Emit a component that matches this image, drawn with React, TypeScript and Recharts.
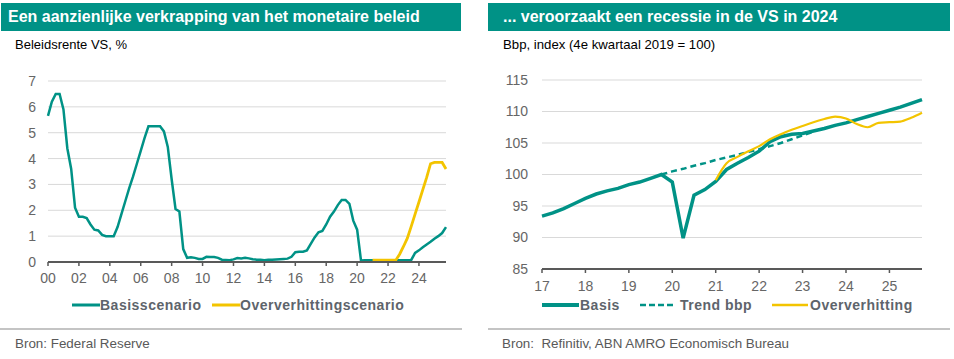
import React from "react";
import { LineChart, Line, XAxis, YAxis, CartesianGrid } from "recharts";

const TEAL = "#009286";
const YELLOW = "#f3c400";
const AXIS = "#595959";
const FONT = "'Liberation Sans', Arial, sans-serif";

// Beleidsrente VS, kwartaalwaarden vanaf 2000 K1
const rateStart = 2000;
const basisRate = [
  5.65, 6.2, 6.5, 6.5, // 2000
  5.9, 4.4, 3.6, 2.1, // 2001
  1.75, 1.75, 1.7, 1.45, // 2002
  1.25, 1.22, 1.05, 1.0, // 2003
  1.0, 1.0, 1.35, 1.85, // 2004
  2.35, 2.85, 3.3, 3.8, // 2005
  4.3, 4.8, 5.25, 5.25, // 2006
  5.25, 5.25, 5.05, 4.45, // 2007
  3.2, 2.05, 1.95, 0.5, // 2008
  0.16, 0.18, 0.16, 0.12, // 2009
  0.12, 0.2, 0.19, 0.19, // 2010
  0.16, 0.09, 0.08, 0.07, // 2011
  0.1, 0.15, 0.14, 0.16, // 2012
  0.14, 0.11, 0.09, 0.09, // 2013
  0.07, 0.09, 0.09, 0.1, // 2014
  0.11, 0.12, 0.13, 0.2, // 2015
  0.38, 0.4, 0.4, 0.45, // 2016
  0.7, 0.95, 1.15, 1.2, // 2017
  1.45, 1.75, 1.95, 2.2, // 2018
  2.4, 2.4, 2.25, 1.6, // 2019
  1.25, 0.06, 0.07, 0.07, // 2020
  0.07, 0.07, 0.07, 0.07, // 2021
  0.07, 0.07, 0.07, 0.07, // 2022
  0.07, 0.07, 0.08, 0.35, // 2023
  0.45, 0.57, 0.68, 0.78, // 2024
  0.9, 1.0, 1.12, 1.35, // 2025
];
const overheatRateStart = 2021;
const overheatRate = [
  0.07, 0.07, 0.07, 0.07, // 2021
  0.07, 0.07, 0.07, 0.3, // 2022
  0.6, 0.92, 1.38, 1.85, // 2023
  2.32, 2.8, 3.27, 3.8, // 2024
  3.85, 3.85, 3.85, 3.6, // 2025
];
const rateYTicks = [0, 1, 2, 3, 4, 5, 6, 7];
const rateXTicks = [2000, 2002, 2004, 2006, 2008, 2010, 2012, 2014, 2016, 2018, 2020, 2022, 2024];

// Bbp-index (4e kwartaal 2019 = 100), kwartaalwaarden vanaf 2017 K1
const gdpStart = 2017;
const gdpBasis = [
  93.4, 93.9, 94.6, 95.4, // 2017
  96.2, 96.9, 97.4, 97.8, // 2018
  98.4, 98.8, 99.4, 100.0, // 2019
  98.8, 89.9, 96.7, 97.6, // 2020
  98.9, 100.8, 101.8, 102.7, // 2021
  103.7, 105.2, 106.0, 106.4, // 2022
  106.5, 106.9, 107.3, 107.8, // 2023
  108.2, 108.7, 109.2, 109.7, // 2024
  110.2, 110.7, 111.3, 111.9, // 2025
];
const gdpTrendStart = 2019.75;
const gdpTrend = [
  100.0, // 2019 K4
  100.5, 100.9, 101.4, 101.8, // 2020
  102.3, 102.7, 103.1, 103.6, // 2021
  104.0, 104.5, 105.0, 105.6, // 2022
  106.2, 106.8, // 2023
];
const gdpOverheatStart = 2021;
const gdpOverheat = [
  99.1, 101.8, 102.8, 103.7, // 2021
  104.5, 105.6, 106.4, 107.1, // 2022
  107.7, 108.3, 108.8, 109.2, // 2023
  108.9, 108.0, 107.5, 108.2, // 2024
  108.3, 108.4, 109.0, 109.8, // 2025
];
const gdpYTicks = [85, 90, 95, 100, 105, 110, 115];
const gdpXTicks = [2017, 2018, 2019, 2020, 2021, 2022, 2023, 2024, 2025];

const rateData = basisRate.map((v, i) => {
  const t = rateStart + i / 4;
  const j = Math.round((t - overheatRateStart) * 4);
  return { t, basis: v, over: j >= 0 ? overheatRate[j] : null };
});

const gdpData = gdpBasis.map((v, i) => {
  const t = gdpStart + i / 4;
  const j = Math.round((t - gdpTrendStart) * 4);
  const k = Math.round((t - gdpOverheatStart) * 4);
  return {
    t,
    basis: v,
    trend: j >= 0 && j < gdpTrend.length ? gdpTrend[j] : null,
    over: k >= 0 ? gdpOverheat[k] : null,
  };
});

const yearLabel = (v: number) => String(Math.round(v) % 100).padStart(2, "0");

const tickStyle = { fontSize: 14, fill: "#666666", fontFamily: FONT };
const legendText: React.CSSProperties = {
  position: "absolute",
  top: 297,
  height: 16,
  lineHeight: "16px",
  fontSize: 14,
  fontWeight: "bold",
  letterSpacing: 0.5,
  color: "#5e646b",
  whiteSpace: "nowrap",
};

function Swatch({ left, width, color, thick, dashed }: { left: number; width: number; color: string; thick: number; dashed?: boolean }) {
  return (
    <svg style={{ position: "absolute", left, top: 299 }} width={width} height={12}>
      <line
        x1={0}
        x2={width}
        y1={6}
        y2={6}
        stroke={color}
        strokeWidth={thick}
        strokeDasharray={dashed ? "6 3" : undefined}
      />
    </svg>
  );
}

export default function App() {
  return (
    <div
      style={{
        position: "absolute",
        left: 0,
        top: 0,
        width: 954,
        height: 359,
        background: "#fff",
        fontFamily: FONT,
        overflow: "hidden",
      }}
    >
      {/* Koppen */}
      <div
        style={{
          position: "absolute",
          left: 1,
          top: 3,
          width: 460,
          height: 28,
          background: TEAL,
          color: "#fff",
          fontWeight: "bold",
          fontSize: 16,
          lineHeight: "28px",
          paddingLeft: 7,
          boxSizing: "border-box",
          whiteSpace: "nowrap",
        }}
      >
        Een aanzienlijke verkrapping van het monetaire beleid
      </div>
      <div
        style={{
          position: "absolute",
          left: 488,
          top: 3,
          width: 462,
          height: 28,
          background: TEAL,
          color: "#fff",
          fontWeight: "bold",
          fontSize: 16,
          lineHeight: "28px",
          paddingLeft: 15,
          boxSizing: "border-box",
          whiteSpace: "nowrap",
        }}
      >
        ... veroorzaakt een recessie in de VS in 2024
      </div>
      <div style={{ position: "absolute", left: 15, top: 37, fontSize: 13, lineHeight: "16px", color: "#000" }}>
        Beleidsrente VS, %
      </div>
      <div style={{ position: "absolute", left: 503, top: 37, fontSize: 13.2, lineHeight: "16px", color: "#000" }}>
        Bbp, index (4e kwartaal 2019 = 100)
      </div>

      {/* Linker grafiek */}
      <div style={{ position: "absolute", left: 0, top: 60 }}>
        <LineChart width={470} height={240} data={rateData} margin={{ top: 21, right: 24, bottom: 8, left: 0 }}>
          <CartesianGrid vertical={false} stroke="#d9d9d9" />
          <XAxis
            dataKey="t"
            type="number"
            domain={[2000, 2025.75]}
            ticks={rateXTicks}
            interval={0}
            tickFormatter={yearLabel}
            tick={tickStyle}
            height={30}
            tickSize={4}
            tickMargin={7}
            axisLine={{ stroke: AXIS, strokeWidth: 2 }}
            tickLine={{ stroke: AXIS, strokeWidth: 1.5 }}
          />
          <YAxis
            type="number"
            domain={[0, 7]}
            ticks={rateYTicks}
            interval={0}
            width={48}
            tick={tickStyle}
            tickSize={6}
            tickMargin={6}
            axisLine={false}
            tickLine={false}
          />
          <Line type="linear" dataKey="basis" stroke={TEAL} strokeWidth={2.5} dot={false} isAnimationActive={false} />
          <Line type="linear" dataKey="over" stroke={YELLOW} strokeWidth={2.8} dot={false} isAnimationActive={false} />
        </LineChart>
      </div>

      {/* Rechter grafiek */}
      <div style={{ position: "absolute", left: 480, top: 60 }}>
        <LineChart width={474} height={240} data={gdpData} margin={{ top: 20, right: 32, bottom: 6, left: 0 }}>
          <CartesianGrid vertical={false} stroke="#d9d9d9" />
          <XAxis
            dataKey="t"
            type="number"
            domain={[2017, 2025.75]}
            ticks={gdpXTicks}
            interval={0}
            tickFormatter={yearLabel}
            tick={tickStyle}
            height={25}
            tickSize={4}
            tickMargin={8}
            axisLine={{ stroke: AXIS, strokeWidth: 2 }}
            tickLine={{ stroke: AXIS, strokeWidth: 1.5 }}
          />
          <YAxis
            type="number"
            domain={[85, 115]}
            ticks={gdpYTicks}
            interval={0}
            width={62}
            tick={tickStyle}
            tickSize={6}
            tickMargin={8}
            axisLine={false}
            tickLine={false}
          />
          <Line type="linear" dataKey="trend" stroke={TEAL} strokeWidth={2.5} strokeDasharray="6 4" dot={false} isAnimationActive={false} />
          <Line type="linear" dataKey="basis" stroke={TEAL} strokeWidth={3.5} dot={false} isAnimationActive={false} />
          <Line type="monotone" dataKey="over" stroke={YELLOW} strokeWidth={2.2} dot={false} isAnimationActive={false} />
        </LineChart>
      </div>

      {/* Legenda's */}
      <Swatch left={72} width={28} color={TEAL} thick={3} />
      <div style={{ ...legendText, left: 100 }}>Basisscenario</div>
      <Swatch left={212} width={28} color={YELLOW} thick={3} />
      <div style={{ ...legendText, left: 240 }}>Oververhittingscenario</div>

      <Swatch left={542} width={37} color={TEAL} thick={4} />
      <div style={{ ...legendText, left: 580 }}>Basis</div>
      <Swatch left={640} width={36} color={TEAL} thick={2.5} dashed />
      <div style={{ ...legendText, left: 680 }}>Trend bbp</div>
      <Swatch left={772} width={36} color={YELLOW} thick={2.5} />
      <div style={{ ...legendText, left: 810 }}>Oververhitting</div>

      {/* Scheidingslijnen en bronnen */}
      <div style={{ position: "absolute", left: 0, top: 328, width: 462, height: 2, background: "#c4c4c4" }} />
      <div style={{ position: "absolute", left: 488, top: 328, width: 462, height: 2, background: "#c4c4c4" }} />
      <div style={{ position: "absolute", left: 15, top: 336, fontSize: 13.4, lineHeight: "16px", color: "#595959" }}>
        Bron: Federal Reserve
      </div>
      <div style={{ position: "absolute", left: 502, top: 336, fontSize: 13.4, lineHeight: "16px", color: "#595959", whiteSpace: "pre" }}>
        {"Bron:  Refinitiv, ABN AMRO Economisch Bureau"}
      </div>
    </div>
  );
}
